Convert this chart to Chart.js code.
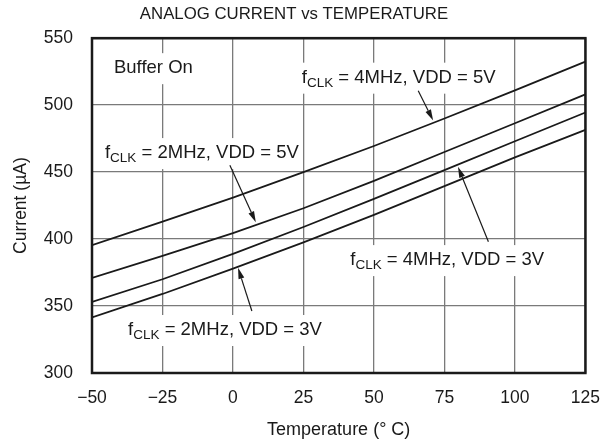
<!DOCTYPE html>
<html>
<head>
<meta charset="utf-8">
<script src="https://cdn.jsdelivr.net/npm/chart.js@4.4.1/dist/chart.umd.min.js"></script>
<style>
  html, body { margin: 0; padding: 0; background: #fff; }
  #wrap { width: 615px; height: 443px; }
</style>
</head>
<body>
<div id="wrap"><canvas id="chart" width="615" height="443"></canvas></div>
<script>
// data (current in uA vs temperature in C)
var temps = [-50, -25, 0, 25, 50, 75, 100, 125];
var cur4M5V = [395.5, 413, 431, 450, 469.5, 490, 511, 532.5];
var cur2M5V = [371, 387.5, 404.5, 423, 443.5, 465, 486.5, 508];
var cur4M3V = [353, 370, 389, 409, 430, 451.5, 473, 494.5];
var cur2M3V = [341.5, 359, 378, 397.5, 418, 439.5, 461, 481.5];
var xTickLabels = ['\u221250', '\u221225', '0', '25', '50', '75', '100', '125'];
var yTickLabels = ['300', '350', '400', '450', '500', '550'];

// callouts: text anchored at (x, y) in data units, arrow from -> to
var callouts = [
  {main: 'Buffer On', x: -42.2, y: 527.6},
  {main: 'f', sub: 'CLK', rest: ' = 4MHz, VDD = 5V', x: 24.4, y: 520.5, from: [65.7, 510.7], to: [71, 488.5]},
  {main: 'f', sub: 'CLK', rest: ' = 2MHz, VDD = 5V', x: -45.4, y: 464.2, from: [-1.1, 455.2], to: [8.1, 412.5]},
  {main: 'f', sub: 'CLK', rest: ' = 4MHz, VDD = 3V', x: 41.6, y: 384.3, from: [90.6, 398], to: [79.8, 454]},
  {main: 'f', sub: 'CLK', rest: ' = 2MHz, VDD = 3V', x: -37.2, y: 332.1, from: [6.7, 346.3], to: [1.8, 378.5]}
];

var FONT = '"Liberation Sans", Arial, Helvetica, sans-serif';
var INK = '#1a1a1a';
var MAIN = '18.5px ' + FONT;
var SUB = '13.5px ' + FONT;

function pts(ys) {
  return temps.map(function(t, i) { return {x: t, y: ys[i]}; });
}

function arrow(ctx, x1, y1, x2, y2) {
  var ang = Math.atan2(y2 - y1, x2 - x1);
  var len = 11, half = 3;
  var bx = x2 - len * Math.cos(ang), by = y2 - len * Math.sin(ang);
  ctx.beginPath();
  ctx.moveTo(x1, y1);
  ctx.lineTo(bx, by);
  ctx.lineWidth = 1.2;
  ctx.strokeStyle = INK;
  ctx.stroke();
  ctx.beginPath();
  ctx.moveTo(x2, y2);
  ctx.lineTo(bx + half * Math.sin(ang), by - half * Math.cos(ang));
  ctx.lineTo(bx - half * Math.sin(ang), by + half * Math.cos(ang));
  ctx.closePath();
  ctx.fillStyle = INK;
  ctx.fill();
}

var calloutPlugin = {
  id: 'callouts',
  beforeDatasetsDraw: function(chart) {
    var ctx = chart.ctx, xs = chart.scales.x, ys = chart.scales.y;
    ctx.save();
    callouts.forEach(function(c) {
      var px = xs.getPixelForValue(c.x), py = ys.getPixelForValue(c.y);
      ctx.font = MAIN;
      var w = ctx.measureText(c.main).width;
      var w2 = 0, w3 = 0;
      if (c.sub) {
        ctx.font = SUB;
        w2 = ctx.measureText(c.sub).width;
        ctx.font = MAIN;
        w3 = ctx.measureText(c.rest).width;
      }
      ctx.fillStyle = '#fff';
      ctx.fillRect(px - 4, py - 15, w + w2 + w3 + 8, 31);
      ctx.fillStyle = INK;
      ctx.textBaseline = 'middle';
      ctx.textAlign = 'left';
      ctx.font = MAIN;
      ctx.fillText(c.main, px, py);
      if (c.sub) {
        ctx.font = SUB;
        ctx.fillText(c.sub, px + w, py + 5.5);
        ctx.font = MAIN;
        ctx.fillText(c.rest, px + w + w2, py);
      }
    });
    ctx.restore();
  },
  afterDatasetsDraw: function(chart) {
    var ctx = chart.ctx, xs = chart.scales.x, ys = chart.scales.y, a = chart.chartArea;
    ctx.save();
    callouts.forEach(function(c) {
      if (!c.from) return;
      arrow(ctx, xs.getPixelForValue(c.from[0]), ys.getPixelForValue(c.from[1]),
        xs.getPixelForValue(c.to[0]), ys.getPixelForValue(c.to[1]));
    });
    // plot frame
    ctx.lineWidth = 2.5;
    ctx.strokeStyle = INK;
    ctx.strokeRect(a.left, a.top, a.right - a.left, a.bottom - a.top);
    ctx.restore();
  }
};

function lineSet(ys) {
  return {
    data: pts(ys),
    showLine: true,
    borderColor: INK,
    borderWidth: 1.8,
    pointRadius: 0,
    tension: 0,
    fill: false
  };
}

new Chart(document.getElementById('chart'), {
  type: 'scatter',
  data: {
    datasets: [lineSet(cur4M5V), lineSet(cur2M5V), lineSet(cur4M3V), lineSet(cur2M3V)]
  },
  options: {
    responsive: false,
    animation: false,
    layout: {padding: {left: 0, right: 27, top: 0, bottom: 0}},
    plugins: {
      legend: {display: false},
      tooltip: {enabled: false},
      title: {
        display: true,
        text: 'ANALOG CURRENT vs TEMPERATURE',
        color: INK,
        font: {family: FONT, size: 16.8, weight: 'normal'},
        padding: {top: 4, bottom: 14}
      }
    },
    scales: {
      x: {
        type: 'linear',
        min: -50,
        max: 125,
        afterFit: function(s) { s.height = 70; },
        ticks: {
          stepSize: 25,
          color: INK,
          padding: 15,
          font: {family: FONT, size: 17.5},
          callback: function(v) { return xTickLabels[temps.indexOf(v)]; }
        },
        grid: {color: '#7a7a7a', lineWidth: 1.3, drawTicks: false},
        border: {display: false},
        title: {
          display: true,
          text: 'Temperature (\u00b0 C)',
          color: INK,
          font: {family: FONT, size: 18},
          padding: {top: 0, bottom: 2}
        }
      },
      y: {
        min: 300,
        max: 550,
        afterFit: function(s) { s.width = 92; },
        ticks: {
          stepSize: 50,
          color: INK,
          padding: 19,
          font: {family: FONT, size: 17.5},
          callback: function(v) { var i = yTickLabels.indexOf(String(v)); return i < 0 ? '' : yTickLabels[i]; }
        },
        grid: {color: '#7a7a7a', lineWidth: 1.3, drawTicks: false},
        border: {display: false},
        title: {
          display: true,
          text: 'Current (\u00b5A)',
          color: INK,
          font: {family: FONT, size: 17.5},
          padding: {top: 11, bottom: 0}
        }
      }
    }
  },
  plugins: [calloutPlugin]
});
</script>
</body>
</html>
